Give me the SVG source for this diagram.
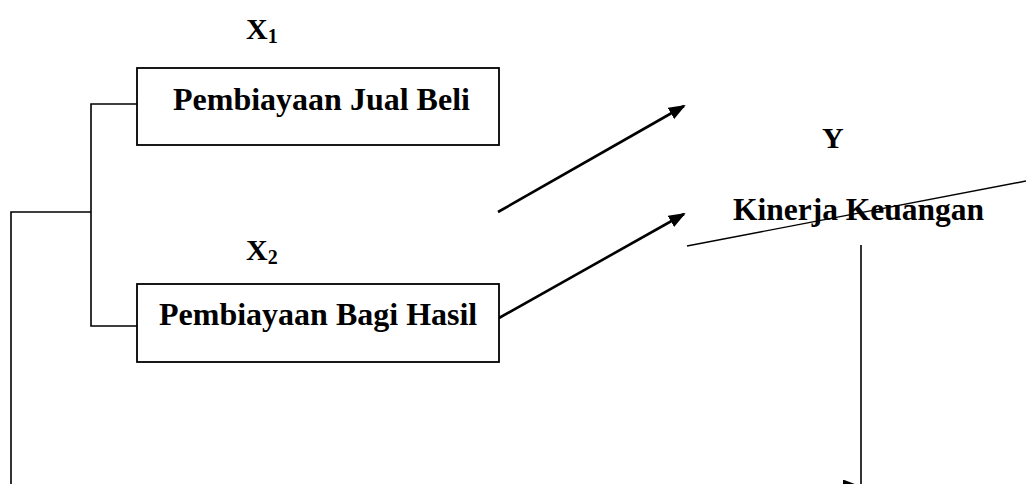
<svg xmlns="http://www.w3.org/2000/svg" width="1026" height="484" viewBox="0 0 1026 484">
<style>
.box{fill:#fff;stroke:#000;stroke-width:1.8}
.lbl{font-family:"Liberation Serif","Times New Roman",serif;font-weight:bold;font-size:32px;fill:#000}
.var{font-family:"Liberation Serif","Times New Roman",serif;font-weight:bold;font-size:30px;fill:#000}
.sub{font-size:20px}
.ln{fill:none;stroke:#000;stroke-width:1.6}
.ar{fill:none;stroke:#000;stroke-width:2.6}
.thin{fill:none;stroke:#000;stroke-width:1.4}
</style>
<defs>
<marker id="ah" markerUnits="userSpaceOnUse" viewBox="0 0 17 13" refX="15" refY="6.5" markerWidth="17" markerHeight="13" orient="auto">
<path d="M0,0 L17,6.5 L0,13 z" fill="#000"/>
</marker>
</defs>
<rect width="1026" height="484" fill="#fff"/>
<g id="connectors">
<path class="ln" d="M137,104 H91 V326 H137"/>
<path class="ln" d="M91,212 H11 V486 H858" marker-end="url(#ah)"/>
<path class="ln" d="M861,245 V490"/>
<line class="ar" x1="498" y1="212" x2="684" y2="106" marker-end="url(#ah)"/>
<line class="ar" x1="499" y1="318" x2="684" y2="214" marker-end="url(#ah)"/>
<line class="thin" x1="687" y1="246" x2="1026" y2="181"/>
</g>
<g id="x1">
<text class="var" x="246" y="39">X<tspan class="sub" dy="4">1</tspan></text>
</g>
<g id="box1">
<rect class="box" x="137" y="68" width="362" height="77"/>
<text class="lbl" x="173" y="110">Pembiayaan Jual Beli</text>
</g>
<g id="x2">
<text class="var" x="246" y="260">X<tspan class="sub" dy="4">2</tspan></text>
</g>
<g id="box2">
<rect class="box" x="137" y="284" width="362" height="78"/>
<text class="lbl" x="159" y="325">Pembiayaan Bagi Hasil</text>
</g>
<g id="y">
<text class="var" x="822" y="148">Y</text>
<text class="lbl" x="733" y="220" style="font-size:31.5px">Kinerja Keuangan</text>
</g>
</svg>
